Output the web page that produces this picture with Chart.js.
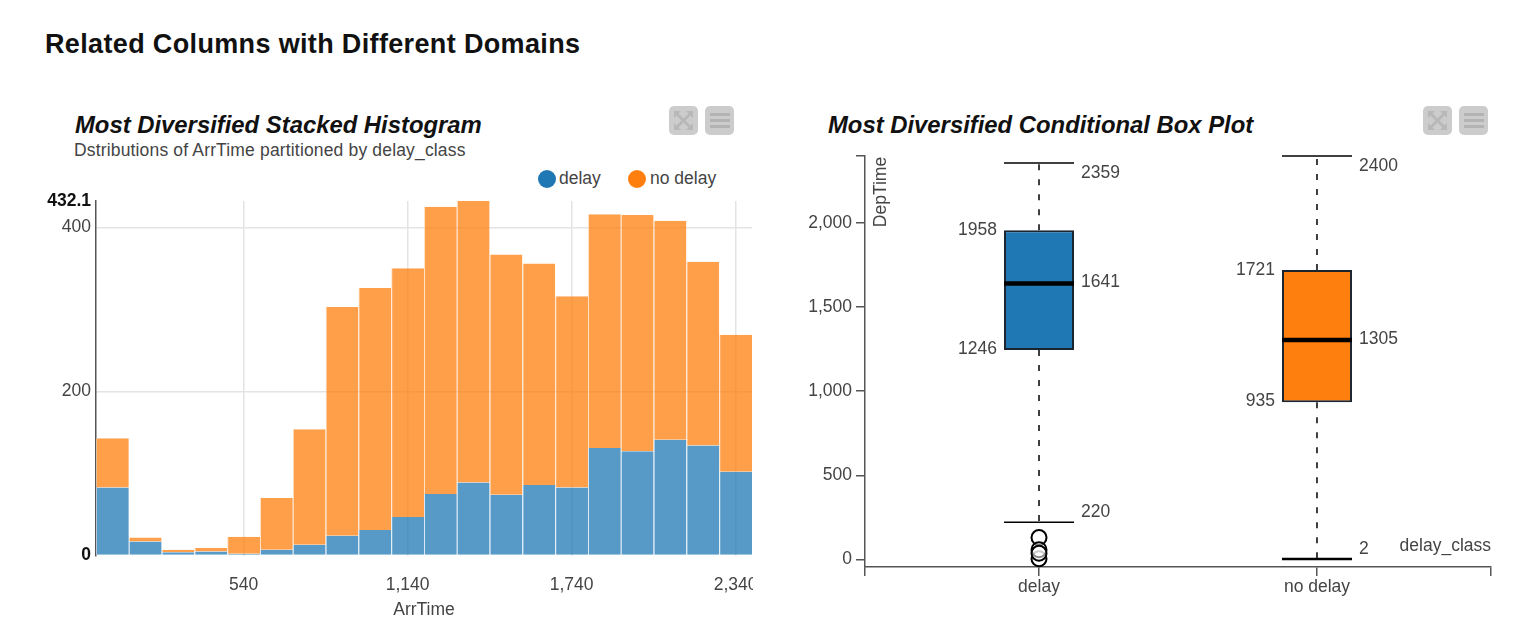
<!DOCTYPE html>
<html>
<head>
<meta charset="utf-8">
<title>Related Columns with Different Domains</title>
<script src="https://cdn.jsdelivr.net/npm/chart.js@4"></script>
<style>
    html, body { margin: 0; padding: 0; background: #fff; }
    body { position: relative; width: 1536px; height: 627px; overflow: hidden; font-family: "Liberation Sans", Arial, sans-serif; }
    canvas { position: absolute; }
    #histCanvas { left: 0; top: 190px; }
    #boxCanvas { left: 780px; top: 140px; }
    .txt { position: absolute; white-space: nowrap; line-height: 1; }
    #mainTitle { left: 45px; top: 31px; font-size: 27px; letter-spacing: 0.35px; font-weight: bold; color: #111; }
    .chartTitle { font-size: 23.85px; font-weight: bold; font-style: italic; color: #111; top: 113px; }
    #histSub { left: 74px; top: 142px; font-size: 17.5px; letter-spacing: 0.16px; color: #444; }
    .dot { position: absolute; width: 18px; height: 18px; border-radius: 50%; top: 170px; }
    .legendText { top: 170px; font-size: 17.5px; color: #444; }
    .btn { position: absolute; top: 106px; width: 29px; height: 29px; border-radius: 5px; background: #ccc; }
    .btn svg { display: block; }
</style>
</head>
<body>
<div class="txt" id="mainTitle">Related Columns with Different Domains</div>
<div class="txt chartTitle" style="left:75px">Most Diversified Stacked Histogram</div>
<div class="txt" id="histSub">Dstributions of ArrTime partitioned by delay_class</div>
<div class="txt chartTitle" style="left:828px">Most Diversified Conditional Box Plot</div>
<div id="legend"></div>
<div id="buttons"></div>
<canvas id="histCanvas" width="753" height="437"></canvas>
<canvas id="boxCanvas" width="756" height="487"></canvas>
<script>
// histogram data, ArrTime bins of 120
const binCenters = [60, 180, 300, 420, 540, 660, 780, 900, 1020, 1140, 1260, 1380, 1500, 1620, 1740, 1860, 1980, 2100, 2220, 2340];
const delayCounts = [83, 17, 4, 5, 2, 7, 13, 24, 31, 47, 75, 89, 74, 86, 83, 131, 127, 141, 134, 102];
const noDelayCounts = [60, 5, 3, 4, 21, 63, 141, 279, 295, 303, 350, 343, 293, 270, 233, 285, 288, 267, 224, 167];
const histXTicks = [540, 1140, 1740, 2340];
const histYTicks = [0, 200, 400, 432.1];

// box plot data
const classes = ['delay', 'no delay'];
const classColors = ['#1f77b4', '#ff7f0e'];
const whiskerLow = [220, 2];
const quart1 = [1246, 935];
const medians = [1641, 1305];
const quart3 = [1958, 1721];
const whiskerHigh = [2359, 2400];
const delayOutliers = [129, 3, 57, 36];
const boxYTicks = [0, 500, 1000, 1500, 2000, 2400];

const greyText = '#444';
const axisGrey = '#555';
const font = '"Liberation Sans", Arial, sans-serif';
Chart.defaults.font.family = font;
Chart.defaults.animation = false;

// legend + little buttons are plain html
const legendEl = document.getElementById('legend');
[[538, 559], [628, 650]].forEach(([dotX, textX], i) => {
    legendEl.innerHTML += `<div class="dot" style="left:${dotX}px;background:${classColors[i]}"></div>` +
        `<div class="txt legendText" style="left:${textX}px">${classes[i]}</div>`;
});
const expandIcon = '<path d="M5 5h7l-2.5 2.5 5 5 5-5L17 5h7v7l-2.5-2.5-5 5 5 5L24 17v7h-7l2.5-2.5-5-5-5 5L12 24H5v-7l2.5 2.5 5-5-5-5L5 12z" fill="#b8b8b8"/>';
const menuIcon = '<path d="M5 7h20v3H5zM5 13h20v3H5zM5 19h20v3H5z" fill="#b3b3b3"/>';
[[669, expandIcon], [705, menuIcon], [1423, expandIcon], [1459, menuIcon]].forEach(([x, icon]) => {
    document.getElementById('buttons').innerHTML +=
        `<div class="btn" style="left:${x}px"><svg width="29" height="29">${icon}</svg></div>`;
});

// pins the plot area, chart.js would otherwise shrink it for the edge labels
function fixAxis(size) {
    return scale => {
        scale.paddingLeft = scale.paddingRight = scale.paddingTop = scale.paddingBottom = 0;
        if (scale.isHorizontal()) scale.height = size; else scale.width = size;
    };
}

// the 0 and max labels are bold, and get no grid line
const isPlainTick = c => !!c.tick && (c.tick.value === 200 || c.tick.value === 400);

new Chart(document.getElementById('histCanvas'), {
    type: 'bar',
    data: {
        datasets: [
            { label: classes[0], data: binCenters.map((x, i) => ({ x, y: delayCounts[i] })), backgroundColor: 'rgba(31,119,180,0.75)', borderColor: 'rgba(190,220,240,0.6)' },
            { label: classes[1], data: binCenters.map((x, i) => ({ x, y: noDelayCounts[i] })), backgroundColor: 'rgba(255,127,14,0.75)', borderColor: 'rgba(255,205,160,0.6)' }
        ].map(d => ({ ...d, barPercentage: 1, categoryPercentage: 1, inflateAmount: 0, borderWidth: { left: 1, right: 0, top: 0, bottom: 0 }, borderSkipped: false }))
    },
    options: {
        responsive: false,
        layout: { padding: { top: 11, right: 1 } },
        plugins: { legend: { display: false }, tooltip: { enabled: false } },
        scales: {
            x: {
                type: 'linear', stacked: true, offset: false, min: 0, max: 2400,
                afterBuildTicks: s => { s.ticks = histXTicks.map(value => ({ value })); },
                afterFit: fixAxis(71.5),
                grid: { offset: false, color: '#e4e4e4', lineWidth: 1.5, drawTicks: false },
                border: { display: false },
                ticks: { color: greyText, font: { size: 17.5 }, padding: 19, maxRotation: 0, autoSkip: false, callback: v => v.toLocaleString('en-US') },
                title: { display: true, text: 'ArrTime', color: greyText, font: { size: 17.5 }, padding: { top: 5, bottom: 6 } }
            },
            y: {
                stacked: true, min: 0, max: 432.1,
                afterBuildTicks: s => { s.ticks = histYTicks.map(value => ({ value })); },
                afterFit: fixAxis(96),
                grid: { color: c => isPlainTick(c) ? '#e4e4e4' : 'transparent', lineWidth: 1.5, drawTicks: false },
                border: { display: true, color: axisGrey, width: 1.5 },
                ticks: {
                    padding: 5, autoSkip: false,
                    color: c => isPlainTick(c) ? greyText : '#111',
                    font: c => ({ size: 17.5, weight: isPlainTick(c) ? 'normal' : 'bold' }),
                    callback: v => String(v)
                }
            }
        }
    }
});

// value labels + axis captions that sit inside the plot
const boxText = {
    id: 'boxText',
    afterDatasetsDraw(chart) {
        const { ctx, chartArea, scales: { x, y } } = chart;
        ctx.save();
        ctx.font = '17.5px ' + font;
        ctx.fillStyle = greyText;
        ctx.textBaseline = 'middle';
        classes.forEach((name, i) => {
            const cx = x.getPixelForValue(i);
            ctx.textAlign = 'left';
            ctx.fillText(whiskerHigh[i], cx + 42, y.getPixelForValue(whiskerHigh[i]) + 10);
            ctx.fillText(medians[i], cx + 42, y.getPixelForValue(medians[i]) - 1);
            ctx.fillText(whiskerLow[i], cx + 42, y.getPixelForValue(whiskerLow[i]) - 10);
            ctx.textAlign = 'right';
            ctx.fillText(quart3[i], cx - 42, y.getPixelForValue(quart3[i]));
            ctx.fillText(quart1[i], cx - 42, y.getPixelForValue(quart1[i]) - 1);
        });
        ctx.textAlign = 'right';
        ctx.fillText('delay_class', chartArea.right, chartArea.bottom - 21);
        ctx.translate(chartArea.left + 16, chartArea.top + 36);
        ctx.rotate(-Math.PI / 2);
        ctx.textAlign = 'center';
        ctx.fillText('DepTime', 0, 0);
        ctx.restore();
    }
};

const lineStyle = { type: 'scatter', showLine: false, clip: false, pointStyle: 'line', pointRadius: 35, pointHoverRadius: 35, pointBorderColor: '#000' };
const whiskerStyle = { type: 'line', spanGaps: false, borderColor: '#000', borderWidth: 1.5, borderDash: [6, 9], pointRadius: 0, fill: false };

// first dataset ends up on top, so the boxes come after the lines that sit on them
new Chart(document.getElementById('boxCanvas'), {
    data: {
        datasets: [
            { ...lineStyle, pointBorderWidth: 4.5, data: classes.map((c, i) => ({ x: i, y: medians[i] })) },
            { ...lineStyle, pointBorderWidth: 1.5, data: classes.map((c, i) => ({ x: i, y: whiskerHigh[i] })) },
            { ...lineStyle, pointBorderWidth: c => c.dataIndex === 1 ? 2.5 : 1.5, data: classes.map((c, i) => ({ x: i, y: whiskerLow[i] })) },
            {
                type: 'scatter', clip: false, pointStyle: 'circle', pointRadius: 7.5, pointBorderColor: '#000', pointBorderWidth: 2,
                pointBackgroundColor: 'rgba(255,255,255,0.55)',
                data: delayOutliers.map(y => ({ x: 0, y }))
            },
            {
                type: 'bar', barThickness: 70, inflateAmount: 0, borderSkipped: false, borderWidth: 2, borderColor: '#1a2530',
                backgroundColor: classColors,
                data: classes.map((c, i) => ({ x: i, y: [quart1[i], quart3[i]] }))
            },
            {
                ...whiskerStyle,
                data: classes.flatMap((c, i) => [{ x: i, y: quart3[i] }, { x: i, y: whiskerHigh[i] }, { x: i, y: null }])
            },
            {
                ...whiskerStyle,
                data: classes.flatMap((c, i) => [{ x: i, y: quart1[i] }, { x: i, y: whiskerLow[i] }, { x: i, y: null }])
            }
        ]
    },
    options: {
        responsive: false,
        layout: { autoPadding: false, padding: { top: 16, right: 45 } },
        plugins: { legend: { display: false }, tooltip: { enabled: false } },
        scales: {
            x: {
                type: 'linear', offset: false, min: -0.626, max: 1.626,
                afterBuildTicks: s => { s.ticks = [-0.626, 0, 1, 1.626].map(value => ({ value })); },
                afterFit: fixAxis(60),
                grid: { offset: false, drawOnChartArea: false, color: axisGrey, lineWidth: 1.5, tickLength: 9 },
                border: { display: true, color: axisGrey, width: 1.5 },
                ticks: { color: greyText, font: { size: 17.5 }, padding: 1, autoSkip: false, maxRotation: 0, callback: v => classes[v] || '' }
            },
            y: {
                min: -46, max: 2400,
                afterBuildTicks: s => { s.ticks = boxYTicks.map(value => ({ value })); },
                afterFit: fixAxis(85),
                grid: { drawOnChartArea: false, color: axisGrey, lineWidth: 1.5, tickLength: 9 },
                border: { display: true, color: axisGrey, width: 1.5 },
                ticks: { color: greyText, font: { size: 17.5 }, padding: 4, autoSkip: false, callback: v => v === 2400 ? '' : v.toLocaleString('en-US') }
            }
        }
    },
    plugins: [boxText]
});
</script>
</body>
</html>
